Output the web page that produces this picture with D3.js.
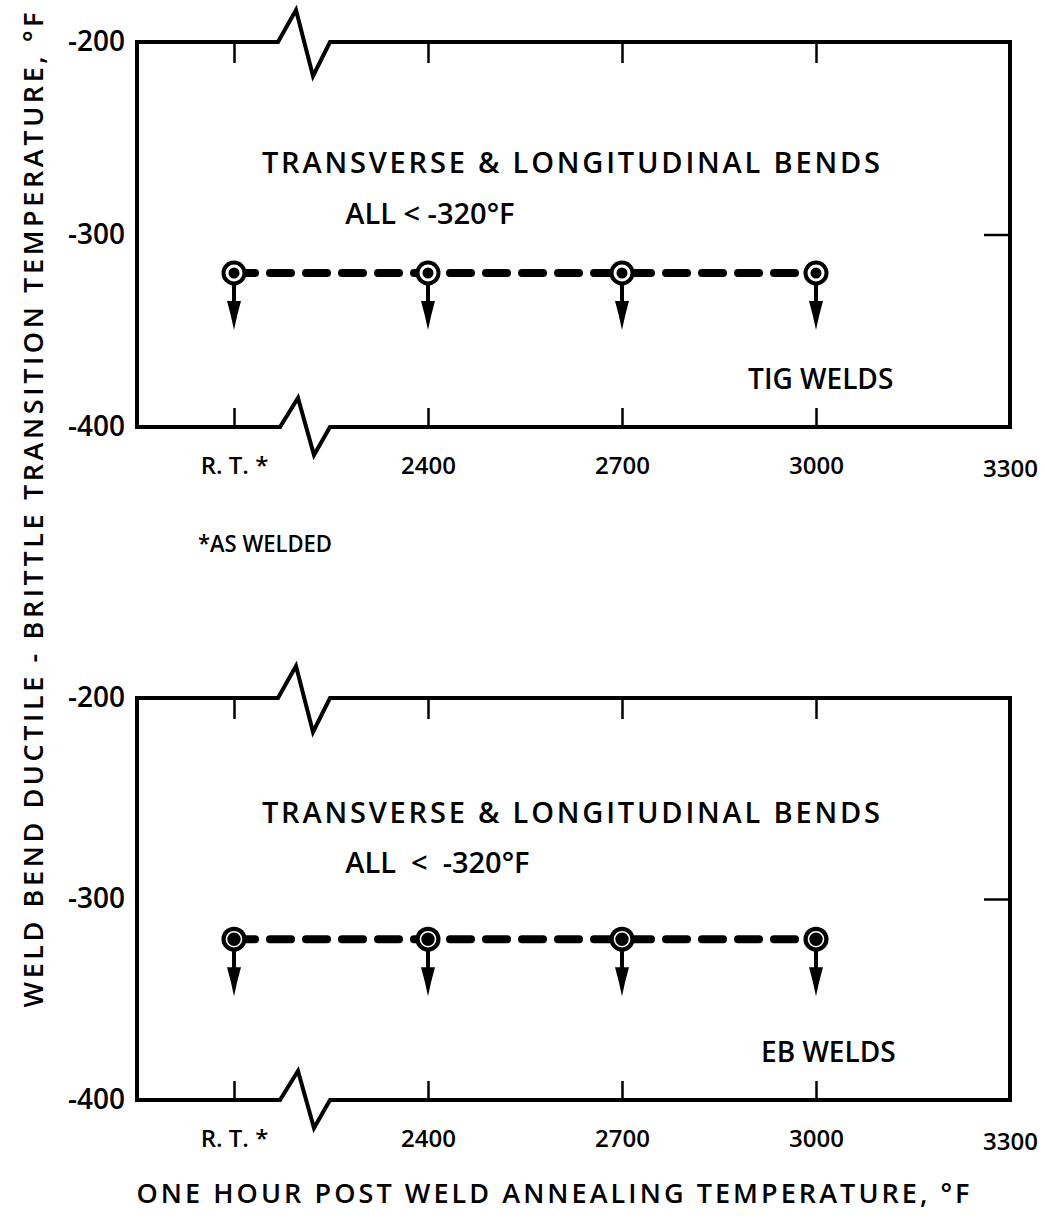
<!DOCTYPE html>
<html>
<head>
<meta charset="utf-8">
<script src="https://cdn.jsdelivr.net/npm/d3@7"></script>
<style>
  body { margin: 0; background: #fff; }
  text { font-family: 'Open Sans', sans-serif; font-weight: 600; fill: #000; }
</style>
</head>
<body>
<svg id="chart" width="1045" height="1231"></svg>
<script>
// annealing temperatures, R.T. is plotted in the 2100 slot
const annealTemps = [2100, 2400, 2700, 3000];
const tickTemps = [2100, 2400, 2700, 3000, 3300];
const tickLabels = ['R. T. *', '2400', '2700', '3000', '3300'];
const yTicks = [-200, -300, -400];

// transition temperature, all below -320 F
const tigTransition = [-320, -320, -320, -320];
const ebTransition = [-320, -320, -320, -320];

const svg = d3.select('#chart');

const x = d3.scaleLinear()
  .domain([1950, 3300])
  .range([137, 1010]);

const panels = [
  { top: 42, bottom: 427, values: tigTransition, weld: 'TIG WELDS', weldX: 2895, kind: 'tig',
    note: 'ALL < -320°F', noteY: -294.5, bendY: -268, weldY: -380 },
  { top: 698, bottom: 1100, values: ebTransition, weld: 'EB WELDS', weldX: 2915, kind: 'eb',
    note: 'ALL  <  -320°F', noteY: -287, bendY: -262, weldY: -381 }
];

panels.forEach(p => {
  const y = d3.scaleLinear()
    .domain([-200, -400])
    .range([p.top, p.bottom]);

  const g = svg.append('g');

  // frame with axis break
  const bx = 278;
  const frame = [
    'M', x.range()[0], p.bottom,
    'L', x.range()[0], p.top,
    'L', bx, p.top,
    'L', bx + 18, p.top - 32,
    'L', bx + 35, p.top + 34,
    'L', bx + 52, p.top,
    'L', x.range()[1], p.top,
    'L', x.range()[1], p.bottom,
    'L', bx + 52, p.bottom,
    'L', bx + 36, p.bottom + 28,
    'L', bx + 20, p.bottom - 29,
    'L', bx + 2, p.bottom,
    'Z'
  ].join(' ');
  g.append('path')
    .attr('d', frame)
    .attr('fill', 'none')
    .attr('stroke', '#000')
    .attr('stroke-width', 4);

  // top ticks pointing in
  const topAxis = g.append('g')
    .attr('transform', 'translate(0,' + p.top + ')')
    .call(d3.axisTop(x).tickValues(annealTemps).tickSize(-21).tickFormat(''));
  topAxis.select('.domain').remove();

  // bottom ticks + labels
  const botAxis = g.append('g')
    .attr('transform', 'translate(0,' + p.bottom + ')')
    .call(d3.axisBottom(x).tickValues(tickTemps).tickSize(-19).tickPadding(30)
      .tickFormat((d, i) => tickLabels[i]));
  botAxis.select('.domain').remove();
  botAxis.selectAll('.tick').filter(d => d === 3300).select('line').remove();
  botAxis.selectAll('.tick').filter(d => d === 3300).select('text').attr('dy', '0.85em');
  botAxis.selectAll('text').attr('font-size', 24).attr('font-family', 'Open Sans')
    .attr('font-weight', 700);

  // left labels
  const leftAxis = g.append('g')
    .attr('transform', 'translate(' + x.range()[0] + ',0)')
    .call(d3.axisLeft(y).tickValues(yTicks).tickSize(0).tickPadding(12)
      .tickFormat(d => String(d)));
  leftAxis.select('.domain').remove();
  leftAxis.selectAll('text').attr('font-size', 28).attr('font-family', 'Open Sans');

  // right tick at -300
  const rightAxis = g.append('g')
    .attr('transform', 'translate(' + x.range()[1] + ',0)')
    .call(d3.axisRight(y).tickValues([-300]).tickSize(-26).tickFormat(''));
  rightAxis.select('.domain').remove();

  g.selectAll('.tick line').attr('stroke', '#000').attr('stroke-width', 2.5);

  // dashed line
  g.append('path')
    .datum(p.values)
    .attr('fill', 'none')
    .attr('stroke', '#000')
    .attr('stroke-width', 8)
    .attr('stroke-linecap', 'round')
    .attr('stroke-dasharray', '21 15')
    .attr('d', d3.line()
      .x((d, i) => x(annealTemps[i]))
      .y(d => y(d)));

  // markers with "less than" arrows
  const m = g.selectAll('.marker')
    .data(p.values)
    .join('g')
    .attr('class', 'marker')
    .attr('transform', (d, i) => 'translate(' + x(annealTemps[i]) + ',' + y(d) + ')');

  m.append('line')
    .attr('x1', 0).attr('x2', 0)
    .attr('y1', 10).attr('y2', 32)
    .attr('stroke', '#000')
    .attr('stroke-width', 4);
  m.append('path')
    .attr('d', 'M-7,28 Q-3,42 0,57 Q3,42 7,28 Z')
    .attr('fill', '#000');
  m.append('circle').attr('r', 12.5).attr('fill', '#000');
  if (p.kind === 'tig') {
    m.append('circle').attr('r', 8.5).attr('fill', '#fff');
    m.append('circle').attr('r', 5.5).attr('fill', '#000');
  } else {
    m.append('circle').attr('r', 7.5).attr('fill', 'none')
      .attr('stroke', '#fff').attr('stroke-width', 1.6);
  }

  // annotations
  g.append('text')
    .attr('x', x(2621))
    .attr('y', y(p.bendY))
    .attr('text-anchor', 'middle')
    .attr('font-size', 29)
    .attr('textLength', 618)
    .attr('lengthAdjust', 'spacing')
    .text('TRANSVERSE & LONGITUDINAL BENDS');

  g.append('text')
    .attr('x', x(2272))
    .attr('y', y(p.noteY))
    .attr('font-size', 29)
    .attr('xml:space', 'preserve')
    .text(p.note);

  g.append('text')
    .attr('x', x(p.weldX))
    .attr('y', y(p.weldY))
    .attr('font-size', 28)
    .text(p.weld);
});

// footnote
svg.append('text')
  .attr('x', 198)
  .attr('y', 552)
  .attr('font-size', 23)
  .attr('textLength', 134)
  .attr('lengthAdjust', 'spacingAndGlyphs')
  .text('*AS WELDED');

// axis titles
svg.append('text')
  .attr('transform', 'translate(43,510) rotate(-90)')
  .attr('text-anchor', 'middle')
  .attr('font-size', 27)
  .attr('font-weight', 500)
  .attr('textLength', 995)
  .attr('lengthAdjust', 'spacing')
  .text('WELD BEND DUCTILE - BRITTLE   TRANSITION   TEMPERATURE, °F');

svg.append('text')
  .attr('x', 553)
  .attr('y', 1203)
  .attr('text-anchor', 'middle')
  .attr('font-size', 27)
  .attr('font-weight', 500)
  .attr('textLength', 833)
  .attr('lengthAdjust', 'spacing')
  .text('ONE HOUR POST WELD ANNEALING TEMPERATURE, °F');
</script>
</body>
</html>
